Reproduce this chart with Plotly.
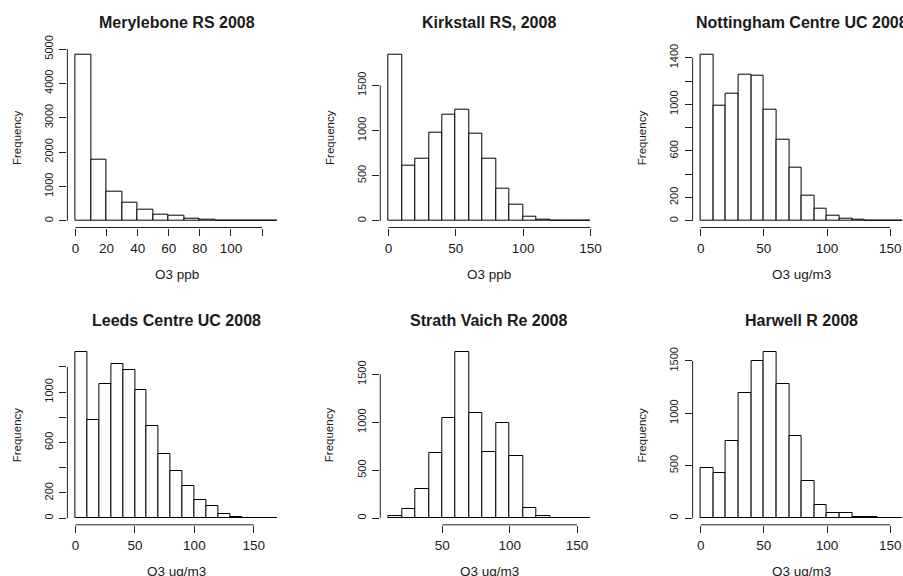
import plotly.graph_objects as go

W, H = 903, 576

titles = ["Merylebone RS 2008", "Kirkstall RS, 2008", "Nottingham Centre UC 2008",
          "Leeds Centre UC 2008", "Strath Vaich Re 2008", "Harwell R 2008"]
xlabels = ["O3 ppb", "O3 ppb", "O3 ug/m3", "O3 ug/m3", "O3 ug/m3", "O3 ug/m3"]
ylabel = "Frequency"

bin_width = 10
first_break = [0, 0, 0, 0, 10, 0]

counts_merylebone = [4845, 1787, 845, 534, 330, 185, 146, 70, 30, 5, 2, 1, 1]
counts_kirkstall = [1844, 610, 691, 979, 1171, 1227, 968, 691, 355, 177, 48, 15, 3, 1, 1]
counts_nottingham = [1429, 985, 1094, 1254, 1243, 951, 699, 458, 218, 103, 43, 20, 9, 2, 1, 1]
counts_leeds = [1321, 777, 1064, 1220, 1172, 1019, 735, 512, 377, 257, 143, 95, 34, 11, 2, 1, 1]
counts_strath = [21, 94, 303, 684, 1043, 1737, 1092, 694, 991, 645, 105, 21, 5, 5, 1]
counts_harwell = [482, 428, 740, 1193, 1503, 1589, 1280, 782, 357, 124, 51, 51, 10, 10, 1, 1]
counts = [counts_merylebone, counts_kirkstall, counts_nottingham,
          counts_leeds, counts_strath, counts_harwell]

xticks = [[0, 20, 40, 60, 80, 100, 120], [0, 50, 100, 150], [0, 50, 100, 150],
          [0, 50, 100, 150], [50, 100, 150], [0, 50, 100, 150]]
xticklabels = [["0", "20", "40", "60", "80", "100", ""], ["0", "50", "100", "150"],
               ["0", "50", "100", "150"], ["0", "50", "100", "150"],
               ["50", "100", "150"], ["0", "50", "100", "150"]]
yticks = [[0, 1000, 2000, 3000, 4000, 5000], [0, 500, 1000, 1500],
          [0, 200, 400, 600, 800, 1000, 1200, 1400],
          [0, 200, 400, 600, 800, 1000, 1200], [0, 500, 1000, 1500], [0, 500, 1000, 1500]]
yticklabels = [["0", "1000", "2000", "3000", "4000", "5000"], ["0", "500", "1000", "1500"],
               ["0", "200", "", "600", "", "1000", "", "1400"],
               ["0", "200", "", "600", "", "1000", ""], ["0", "500", "1000", "1500"],
               ["0", "500", "1000", "1500"]]

# panel geometry in pixels (R-like par(mfrow=c(2,3)))
col_left = [67.4, 380.3, 692.6]
row_top = [47.7, 345.0]
pw, ph = 218.3, 179.8

FONT = "Liberation Sans, Arial, sans-serif"
TXT = "#1a1a1a"

fig = go.Figure()
layout = dict(width=W, height=H, margin=dict(l=0, r=0, t=0, b=0, autoexpand=False),
              paper_bgcolor="white", plot_bgcolor="white", showlegend=False,
              font=dict(family=FONT, size=13.5, color=TXT), bargap=0)
annotations = []
shapes = []

for i in range(6):
    r, c = divmod(i, 3)
    left = col_left[c]
    right_full = left + pw
    right = min(right_full, W)
    top = row_top[r]
    bottom = top + ph
    n = "" if i == 0 else str(i + 1)
    xa, ya = "x" + n, "y" + n

    b0 = first_break[i]
    bn = b0 + bin_width * len(counts[i])
    xr0 = b0 - 0.04 * (bn - b0)
    xr1_full = bn + 0.04 * (bn - b0)
    xr1 = xr0 + (xr1_full - xr0) * (right - left) / pw
    ymax = max(counts[i])
    yr0, yr1 = -0.04 * ymax, 1.04 * ymax

    centers = [b0 + bin_width * (k + 0.5) for k in range(len(counts[i]))]
    fig.add_trace(go.Bar(x=centers, y=counts[i], width=bin_width,
                         marker=dict(color="white", line=dict(color="black", width=1)),
                         xaxis=xa, yaxis=ya, hoverinfo="x+y"))

    layout["xaxis" + n] = dict(domain=[left / W, right / W], range=[xr0, xr1],
                               anchor=ya, showgrid=False, zeroline=False, showline=False,
                               automargin=False,
                               tickmode="array", tickvals=xticks[i], ticktext=xticklabels[i],
                               ticks="outside", ticklen=7, tickwidth=1, tickcolor="#222",
                               ticklabelstandoff=1, tickfont=dict(size=13.5, color=TXT))
    layout["yaxis" + n] = dict(domain=[1 - bottom / H, 1 - top / H], range=[yr0, yr1],
                               anchor=xa, showgrid=False, zeroline=False, showline=False,
                               automargin=False,
                               tickmode="array", tickvals=yticks[i], ticktext=yticklabels[i],
                               ticks="outside", ticklen=7, tickwidth=1, tickcolor="#222",
                               tickangle=-90, ticklabelstandoff=2,
                               tickfont=dict(size=11, color=TXT))

    # detached R-style axis lines spanning first to last tick
    xt_in = [t for t in xticks[i] if xr0 <= t <= xr1]
    shapes.append(dict(type="line", xref=xa + " domain", yref=ya + " domain",
                       x0=(xt_in[0] - xr0) / (xr1 - xr0), x1=(xt_in[-1] - xr0) / (xr1 - xr0),
                       y0=0, y1=0, line=dict(color="#222", width=1)))
    shapes.append(dict(type="line", xref=xa + " domain", yref=ya + " domain",
                       x0=0, x1=0, y0=(yticks[i][0] - yr0) / (yr1 - yr0),
                       y1=(yticks[i][-1] - yr0) / (yr1 - yr0),
                       line=dict(color="#222", width=1)))

    cx = (left + right_full) / 2
    annotations.append(dict(text="<b>" + titles[i] + "</b>", xref="paper", yref="paper",
                            x=cx / W, y=1 - (top - 25) / H, xanchor="center", yanchor="middle",
                            showarrow=False, font=dict(size=16, color=TXT, family=FONT)))
    annotations.append(dict(text=xlabels[i], xref="paper", yref="paper",
                            x=cx / W, y=1 - (bottom + 47) / H, xanchor="center",
                            yanchor="middle", showarrow=False,
                            font=dict(size=13.5, color=TXT, family=FONT)))
    annotations.append(dict(text=ylabel, xref="paper", yref="paper",
                            x=(left - 51) / W, y=1 - (top + ph / 2) / H, xanchor="center",
                            yanchor="middle", textangle=-90, showarrow=False,
                            font=dict(size=11.5, color=TXT, family=FONT)))

layout["annotations"] = annotations
layout["shapes"] = shapes
fig.update_layout(**layout)
fig.write_html("out.html")
